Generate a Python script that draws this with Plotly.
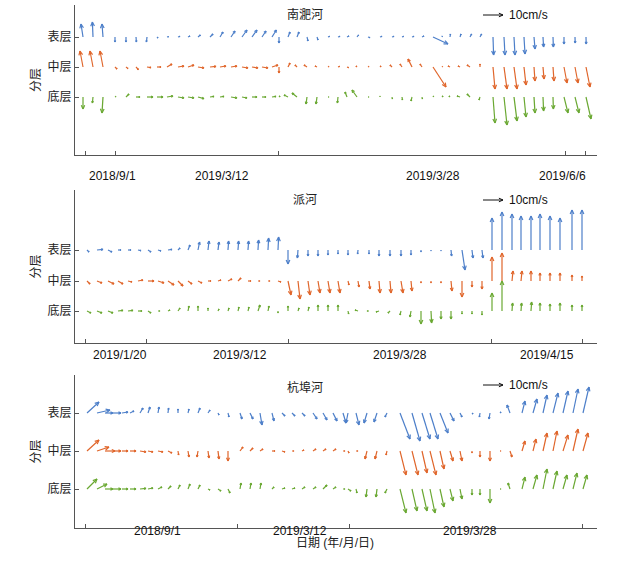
import math
import plotly.graph_objects as go

LAYERS = ["表层", "中层", "底层"]
STATIONS = ["南淝河", "派河", "杭埠河"]
SCALE_LABEL = "10cm/s"
SCALE_VALUE = 10

# ---------- 南淝河 ----------
P1_X = [83,93,103, 115,126,136,147,157,167,178,188,198,210,220,231,242,252,262,272,
        279,288,297,307,317,328,338,347,357,368,380,392,402,412,422,433,442,450,460,470,480,
        493,504,514,524,534,543,553,564,575,586]
P1_SURF = [(-1,6.5),(-0.3,7.5),(-0.5,6.5),
           (0,-2.5),(0,-2.5),(0.2,-2.5),(-0.3,-2.5),(0.5,-0.5),(0.8,0.2),(1,0.3),(1,0.5),(1.2,1),(1.5,1.5),(1.5,2.5),(2,3),(2.5,3.5),(2.5,3.5),(2,3),(2.2,3.5),
           (0,-3),(1,2.5),(1,2.5),(0.5,-2),(0.5,-1.5),(0.8,0.3),(1,0.3),(1,0.5),(0.8,1),(1,-0.3),(1,0.3),(1,0.3),(0.8,0.3),(1,0.3),(1,0.5),(7.5,-3.5),(0.2,0.5),(0.2,1.5),(0.5,1.5),(0.8,1.5),(0.8,1.5),
           (0.3,-9),(0.5,-9),(0.5,-9),(0.5,-8.5),(0.5,-6),(0.3,-5),(0.2,-5),(0,-3.5),(0.1,-3),(0.1,-3.5)]
P1_MID = [(-1.5,8),(-1.5,8),(-1.5,8),
          (1,-1),(1,-0.8),(1.2,-1.3),(2,-0.3),(2,0),(2.5,1.5),(3,0.5),(3,1),(3,-0.5),(3,0.3),(3,0.5),(3,0.5),(3,-0.5),(3,-0.5),(3,-0.5),(3,1),
          (0,-3),(1,2),(-1,1),(-1.5,1),(-1,0.5),(0.5,0.3),(0.8,0.3),(0.8,-0.3),(-0.5,0.5),(0.5,0.3),(0.5,0.5),(-1,1),(-1,1.5),(-2,4),(-1,1.5),(6.5,-10),(0.3,0.3),(-1,0.5),(-1,0.5),(-1.5,1),(0,1.5),
          (1,-11),(1.5,-11),(1.5,-11),(1,-9),(0.5,-7),(0.5,-6),(0.5,-7),(1.5,-8),(1.5,-8),(2,-10)]
P1_BOT = [(0,-6),(-0.3,-3),(-0.5,-8),
          (0.5,0.3),(1.5,1.5),(2,0),(3,0),(3,0),(3,0.5),(3,-0.5),(3,-0.5),(3,-0.8),(2,0.3),(2,0.3),(3,-0.5),(2.5,-0.5),(2.5,0),(2,0),(2,0.3),
          (0.5,0.5),(-2,1),(-2.5,2),(-0.5,-3.5),(-0.5,-3.5),(0.5,0),(-0.3,-3),(-1,2.5),(-2.5,3.5),(0.5,0),(0,0.5),(0.2,-1),(0.2,-1.5),(-0.5,-2),(0.2,-1),(0.3,0.5),(0.5,0.5),(-0.5,0.5),(-1.5,0.5),(-1.5,1.5),(-0.5,-1.5),
          (1,-13),(1.5,-14),(1.5,-12),(1,-10),(0.5,-8),(0.3,-7),(0.2,-6),(2,-8),(2,-8),(2.5,-11)]
P1_TICKS = [85, 115, 278, 565, 585]
P1_LABELS = ["2018/9/1", "2019/3/12", "2019/3/28", "2019/6/6"]
P1_LABEL_X = [112, 222, 433, 562]

# ---------- 派河 ----------
P2_X = [87,97,108,118,128,138,148,158,168,178,188,198,208,218,228,238,248,258,268,278,
        288,298,308,318,328,338,348,358,369,379,390,401,411,421,431,441,451,462,472,482,
        492,502,512,521,531,540,550,560,572,582]
P2_SURF = [(1,-1),(3,0.3),(2,-1),(1.5,0),(1.5,0),(1.5,-0.3),(1.5,-1),(1.5,-0.5),(2,0.3),(1,1),(1,2.5),(0.8,4),(0.5,4.5),(0.5,4),(0.3,4.5),(0.3,4.5),(0.3,4.5),(0.3,5),(0.3,6),(0.3,6.5),
           (0,-7),(-0.3,-4),(0,-3),(0,-3),(0,-2.5),(0,-2),(0,-2.5),(-0.2,-2),(0,-2),(0,-3),(0,-3),(0,-3),(0,-2.5),(0,-1),(0,-0.5),(0,-0.5),(0.3,-3),(1.5,-10),(0.5,-4),(0.5,-4),
           (0,16),(0,19),(0,18),(0,17),(0,17),(0,18),(0,17),(0,16),(0,20),(0,20)]
P2_MID = [(1.5,-1.5),(2.5,-1),(3,-1.5),(2.5,-1.5),(2,-0.5),(2.5,0.5),(3,0),(3,-1),(3,-2),(2.5,-2.5),(2,-1.5),(2,-1),(1.5,0),(1.5,0.5),(2,1),(1.5,1.5),(1.5,0),(1,0),(1,0),(1.5,-0.5),
          (1.5,-7),(1,-9),(1,-7),(1,-6),(1,-6),(1,-6),(0.5,-2),(0.5,-3),(0.5,-4),(0.5,-6),(0.5,-6),(1,-6),(0.5,-5),(0,-1),(0,-1),(0,-1),(0.5,-5),(0,-8),(0,-3),(0,-4),
          (0,12),(0,14),(0.5,5),(0.5,5),(0,5),(0,4),(0,4),(0,4),(0,3),(0,2.5)]
P2_BOT = [(2,-1),(2.5,-1),(2.5,-1),(2.5,0.3),(2.5,0.3),(2,0),(1.5,-1),(1,0),(1,0.5),(1,1.5),(0.5,2.5),(0,2.5),(0,1.5),(0.5,1),(0.5,1.5),(0.5,2),(0.5,2),(1,3),(0.5,2.5),(0,-1),
          (0,2.5),(0.5,1.5),(0.5,2),(0,3),(0,3),(0,3),(0.3,-1.5),(-1.5,0.5),(-1,0),(-1.5,-0.5),(-1,-1),(-0.5,-2),(-0.5,-3),(0,-6.5),(0.3,-6),(0,-4),(0,-4),(0,-1.5),(0,-1.5),(0,-2),
          (0,9),(0,15),(0.3,4),(0.3,4),(0.3,4.5),(0,4),(0,3.5),(0,4),(0,3),(0,3)]
P2_TICKS = [85, 146, 288, 491, 582]
P2_LABELS = ["2019/1/20", "2019/3/12", "2019/3/28", "2019/4/15"]
P2_LABEL_X = [120, 240, 400, 547]

# ---------- 杭埠河 ----------
P3_X = [87,97,105,113,122,130,140,148,158,168,178,188,198,208,218,228,
        240,250,260,272,282,292,302,313,323,333,343,
        348,356,367,377,387,400,412,422,430,440,450,460,472,480,490,500,510,522,533,543,553,563,573,583]
P3_SURF = [(6,5.5),(6.5,1.5),(4,0),(4,0),(3,0.5),(2,1),(1.5,2.5),(1,3),(0.5,3),(0.3,2.5),(0,2),(0.5,2),(1,2.5),(1,1.5),(0.5,-1),(0.5,-2),
           (1,-3),(1.5,-3),(1,-6),(1,-4),(1.5,-1.5),(1.5,-1.5),(1.5,-1.5),(2,-3),(2,-3.5),(2,-4),(1.5,-5),
           (-1,-5),(1.5,-6),(-1.5,-5),(-1.5,-4.5),(-1,-2),(5,-13),(4,-14),(4,-13),(4,-13),(4,-10),(2,-4),(1,-2),(0.5,-0.5),(-0.3,-2),(-0.5,-3),(0.5,0.5),(-1.5,4),(1.5,6),(2,7),(2,9),(2.5,10),(2.5,11),(2.5,12),(3,13)]
P3_MID = [(6,5.5),(6,2),(5,0),(4,0),(3,0),(3,0),(3,-0.5),(2.5,-0.5),(2.5,-0.5),(2,-1),(0.3,-2),(0.5,-3),(-0.5,-3),(0.5,-3.5),(0.5,-4),(0,-5),
          (1.5,2),(1.5,1.5),(1.5,1),(1.5,0),(1.5,-0.5),(1,0),(1,0.5),(1.5,1),(1.5,1),(1.5,1),(1,0),
          (0.5,-1),(1,0),(-1,-4),(-1,-4),(-0.5,-2),(3,-12),(3,-12),(2.5,-11),(3,-12),(2,-9),(1.5,-5),(1,-5),(0,-1),(0,-3),(0,-5),(0.5,0),(1,-3),(1.5,5),(1.5,6),(2,9),(2,10),(2.5,8),(2.5,11),(2.5,9)]
P3_BOT = [(5,5),(5,2.5),(4,0),(4,0),(3,0),(3,0),(3,0.3),(2.5,0.5),(2,1),(1.5,1.5),(1,2),(1,2.5),(1,2),(1,-0.5),(1.5,-1),(1,-2),
          (0.5,3),(0.5,3),(0.5,3),(1,1),(1.5,0.5),(1.5,0.5),(1.5,1),(1.5,1),(2,2),(1.5,1),(1,0),
          (1.5,-1),(0.5,-2),(-0.5,-4),(-0.5,-4),(-1,-2),(3,-12),(2.5,-11),(2.5,-11),(2.5,-12),(2,-9),(1.5,-6),(1,-5),(0,-3),(0,-3),(0,-7),(0.5,0),(-1,3),(1.5,6),(2,7),(2,10),(2,9),(2,7),(2,8),(2,7)]
P3_TICKS = [85, 237, 349, 582]
P3_LABELS = ["2018/9/1", "2019/3/12", "2019/3/28"]
P3_LABEL_X = [157, 300, 470]

W, H = 641, 564
COLORS = ["#4d7fc9", "#e0652a", "#6aa832"]
K = 2.0  # px per cm/s
XL, XR = 75, 597
FONT = "Arial, Liberation Sans, Noto Sans CJK SC"

panels = [
    dict(x=P1_X, d=[P1_SURF, P1_MID, P1_BOT], top=5, bot=155, rows=[37, 67, 97], ticks=P1_TICKS, labels=P1_LABELS, lx=P1_LABEL_X, title_y=15),
    dict(x=P2_X, d=[P2_SURF, P2_MID, P2_BOT], top=190, bot=343, rows=[250, 281, 311], ticks=P2_TICKS, labels=P2_LABELS, lx=P2_LABEL_X, title_y=200),
    dict(x=P3_X, d=[P3_SURF, P3_MID, P3_BOT], top=375, bot=528, rows=[413, 451, 489], ticks=P3_TICKS, labels=P3_LABELS, lx=P3_LABEL_X, title_y=387),
]


def quiver_path(xs, y0, vecs):
    px, py = [], []
    for xv, (u, v) in zip(xs, vecs):
        dx, dy = u * K, v * K
        L = math.hypot(dx, dy)
        if L < 0.6:
            continue
        x1, y1 = xv + dx, y0 + dy
        h = min(4.5, 0.35 * L)
        ang = math.atan2(dy, dx)
        px += [xv, x1, None]
        py += [y0, y1, None]
        for s in (1, -1):
            a = ang + math.pi + s * 0.42
            px += [x1 + h * math.cos(a), x1, None]
            py += [y1 + h * math.sin(a), y1, None]
    return px, py


fig = go.Figure()
ann = []
for i, p in enumerate(panels):
    n = "" if i == 0 else str(i + 1)
    xa, ya = "x" + n, "y" + n
    for li, series in enumerate(p["d"]):
        qx, qy = quiver_path(p["x"], -p["rows"][li], series)
        fig.add_trace(go.Scatter(x=qx, y=qy, mode="lines", line=dict(color=COLORS[li], width=1.2),
                                 xaxis=xa, yaxis=ya, showlegend=False, hoverinfo="skip"))
    sy = -(p["top"] + 10)
    qx, qy = quiver_path([483], sy, [(SCALE_VALUE, 0)])
    fig.add_trace(go.Scatter(x=qx, y=qy, mode="lines", line=dict(color="#111", width=1),
                             xaxis=xa, yaxis=ya, showlegend=False, hoverinfo="skip"))
    fig.layout["xaxis" + n] = dict(domain=[XL / W, XR / W], range=[XL, XR], anchor=ya,
        showgrid=False, zeroline=False, showline=True, linecolor="#555", linewidth=1,
        tickvals=p["ticks"], ticktext=[""] * len(p["ticks"]), ticks="inside", ticklen=4,
        tickcolor="#555", automargin=False)
    fig.layout["yaxis" + n] = dict(domain=[1 - p["bot"] / H, 1 - p["top"] / H],
        range=[-p["bot"], -p["top"]], anchor=xa, showgrid=False, zeroline=False,
        showline=True, linecolor="#555", linewidth=1, automargin=False,
        tickvals=[-r for r in p["rows"]], ticktext=LAYERS, ticks="inside", ticklen=4,
        tickcolor="#555", tickfont=dict(size=12, color="#222", family=FONT),
        title=dict(text="分层", font=dict(size=12, color="#222", family=FONT), standoff=4))
    ann.append(dict(x=507, y=sy, xref=xa, yref=ya, text=SCALE_LABEL, showarrow=False,
                    xanchor="left", font=dict(size=12, color="#111", family=FONT)))
    ann.append(dict(x=305, y=-p["title_y"], xref=xa, yref=ya, text=STATIONS[i], showarrow=False,
                    font=dict(size=12, color="#222", family=FONT)))
    for lab, lx in zip(p["labels"], p["lx"]):
        ann.append(dict(x=lx, y=1 - (p["bot"] + 12) / H, xref=xa, yref="paper", text=lab,
                        showarrow=False, font=dict(size=12, color="#111", family=FONT)))

ann.append(dict(x=335 / W, y=1 - 552 / H, xref="paper", yref="paper", text="日期 (年/月/日)",
                showarrow=False, font=dict(size=12, color="#222", family=FONT)))

fig.update_layout(width=W, height=H, margin=dict(l=0, r=0, t=0, b=0),
                  plot_bgcolor="white", paper_bgcolor="white", annotations=ann,
                  font=dict(family=FONT))
fig.write_html("out.html", config={"displayModeBar": False},
               post_script="document.body.style.margin='0';document.body.style.overflow='hidden';")
